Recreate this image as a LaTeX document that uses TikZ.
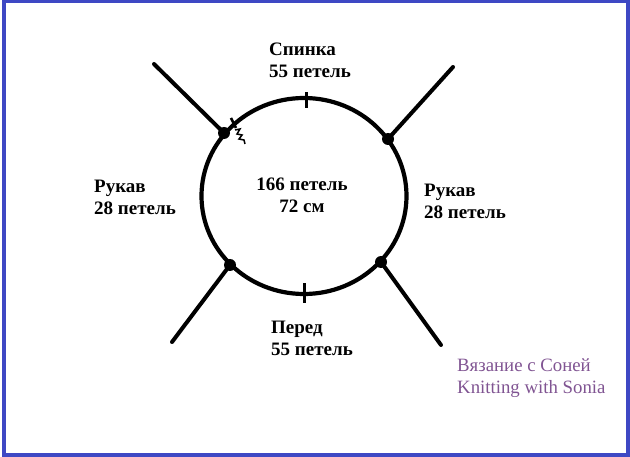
\documentclass[tikz,border=0pt]{standalone}
\usepackage{fontspec}
\setmainfont{Liberation Serif}
\definecolor{frameblue}{RGB}{62,72,196}
\definecolor{signpurple}{RGB}{128,84,146}
\begin{document}
\begin{tikzpicture}[x=1pt,y=-1pt,
    part/.style={font=\bfseries\fontsize{19}{22}\selectfont, align=left, inner sep=0pt, anchor=north west},
    knot/.style={circle, fill, inner sep=0pt, minimum size=12pt},
    needle/.style={line width=4pt, line cap=round},
    stitchmark/.style={line width=3pt}]
    \useasboundingbox (0,0) rectangle (630,457);
    \draw [frameblue, line width=4pt] (4,1.5) rectangle (628,455);

    % body of the yoke
    \coordinate (body) at (304,196);
    \draw [line width=4.2pt] (body) ellipse [x radius=102.5, y radius=98];

    % raglan points
    \node [knot] (backleft) at (224,133) {};
    \node [knot] (backright) at (388,139) {};
    \node [knot] (frontleft) at (230,265) {};
    \node [knot] (frontright) at (381,262) {};
    \coordinate (endbl) at (154,64);
    \coordinate (endbr) at (453,67);
    \coordinate (endfl) at (172,342);
    \coordinate (endfr) at (441,345);
    \draw [needle] (backleft.center) -- (endbl);
    \draw [needle] (backright.center) -- (endbr);
    \draw [needle] (frontleft.center) -- (endfl);
    \draw [needle] (frontright.center) -- (endfr);

    % middle of back and front
    \coordinate (backmid) at (306,100);
    \coordinate (frontmid) at (304,293);
    \draw [stitchmark] ([yshift=-8]backmid) -- ([yshift=8]backmid);
    \draw [stitchmark] ([yshift=-10]frontmid) -- ([yshift=10]frontmid);

    % start of the round
    \coordinate (start) at (234,124);
    \draw [line width=2.5pt] ([shift={(-3,-6)}]start) -- ([shift={(2,4)}]start);
    \draw [line width=1.5pt] (235,130) -- (240,129) -- (237,134) -- (242,135) -- (239,139)
        -- (244,140) -- (245,144);

    \node [part] (back) at (269,43) {Спинка\\55 петель};
    \node [part] (leftsleeve) at (94,180) {Рукав\\28 петель};
    \node [part] (rightsleeve) at (424,184) {Рукав\\28 петель};
    \node [part, align=center, anchor=north] (total) at (302,178) {166 петель\\72 см};
    \node [part] (front) at (271,321) {Перед\\55 петель};
    \node [font=\fontsize{18.8}{22}\selectfont, text=signpurple, align=left, inner sep=0pt, anchor=north west]
        (sign) at (457,358) {Вязание с Соней\\Knitting with Sonia};
\end{tikzpicture}
\end{document}
